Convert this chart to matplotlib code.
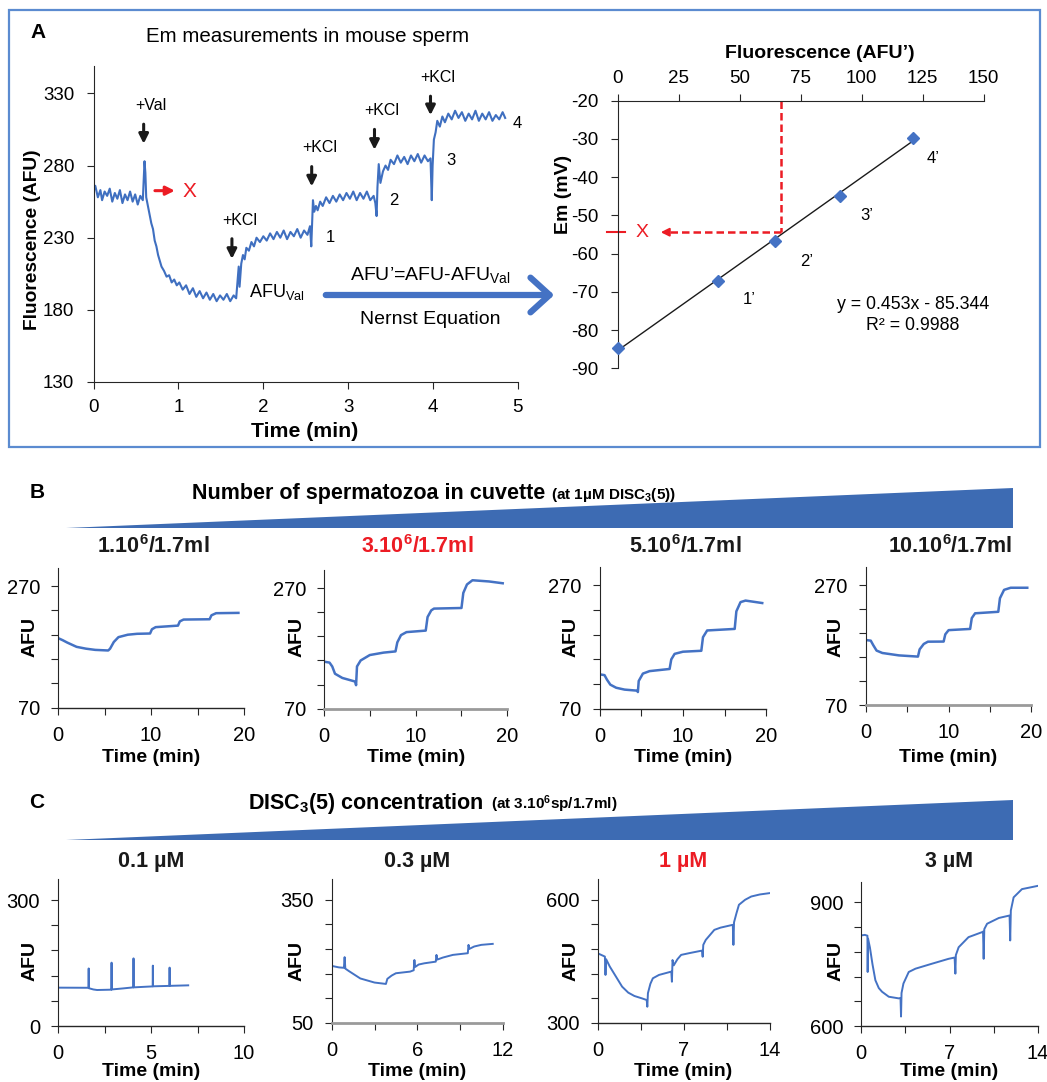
import matplotlib
matplotlib.use("Agg")
import matplotlib.pyplot as plt
from matplotlib.patches import Polygon, Rectangle, FancyArrowPatch

W, H = 1047, 1082
BLUE = "#4472c4"
WEDGE = "#3d6bb3"
RED = "#ec1c24"
AXC = "#262626"

plt.rcParams["font.family"] = ["Liberation Sans", "DejaVu Sans"]
plt.rcParams["axes.unicode_minus"] = False
plt.rcParams["mathtext.fontset"] = "custom"
plt.rcParams["mathtext.rm"] = "Liberation Sans"
plt.rcParams["mathtext.bf"] = "Liberation Sans:bold"
plt.rcParams["mathtext.it"] = "Liberation Sans:italic"

# ---- panel A, left: raw trace (time in min, AFU)
trace_a = [
    (0.00, 262), (0.02, 266), (0.05, 258), (0.08, 263), (0.10, 256), (0.13, 262), (0.16, 259),
    (0.19, 264), (0.22, 255), (0.25, 261), (0.28, 257), (0.31, 263), (0.34, 254), (0.37, 260),
    (0.40, 256), (0.43, 262), (0.46, 255), (0.49, 260), (0.52, 253), (0.55, 259), (0.58, 256),
    (0.59, 270), (0.60, 283), (0.61, 275), (0.62, 258), (0.64, 252), (0.66, 246), (0.68, 240),
    (0.70, 236), (0.72, 228), (0.74, 224), (0.76, 218), (0.78, 214), (0.80, 210), (0.83, 207),
    (0.86, 203), (0.89, 204), (0.92, 199), (0.95, 201), (0.98, 197), (1.01, 199), (1.05, 194),
    (1.09, 197), (1.13, 191), (1.17, 195), (1.21, 189), (1.25, 193), (1.29, 188), (1.33, 192),
    (1.37, 187), (1.41, 191), (1.45, 186), (1.49, 190), (1.53, 187), (1.57, 191), (1.61, 186),
    (1.65, 190), (1.68, 188), (1.70, 203), (1.71, 210), (1.72, 196), (1.74, 212), (1.76, 218),
    (1.78, 215), (1.80, 223), (1.83, 221), (1.86, 227), (1.89, 224), (1.92, 230), (1.96, 227),
    (2.00, 231), (2.04, 228), (2.08, 233), (2.12, 229), (2.16, 234), (2.20, 230), (2.24, 235),
    (2.28, 229), (2.32, 234), (2.36, 231), (2.40, 236), (2.44, 230), (2.48, 235), (2.52, 232),
    (2.55, 238), (2.565, 224), (2.575, 240), (2.585, 256), (2.60, 248), (2.62, 252), (2.64, 249),
    (2.67, 255), (2.70, 252), (2.74, 258), (2.78, 254), (2.82, 259), (2.86, 255), (2.90, 260),
    (2.94, 256), (2.98, 261), (3.02, 257), (3.06, 262), (3.10, 256), (3.14, 261), (3.18, 257),
    (3.22, 262), (3.26, 256), (3.30, 259), (3.32, 254), (3.335, 245), (3.345, 265), (3.36, 281),
    (3.38, 268), (3.41, 276), (3.44, 280), (3.47, 277), (3.50, 284), (3.54, 281), (3.58, 287),
    (3.62, 282), (3.66, 286), (3.70, 281), (3.74, 287), (3.78, 283), (3.82, 288), (3.86, 282),
    (3.90, 287), (3.94, 283), (3.97, 285), (3.985, 256), (3.995, 280), (4.01, 298), (4.03, 303),
    (4.05, 311), (4.08, 307), (4.11, 314), (4.14, 310), (4.18, 316), (4.22, 312), (4.26, 318),
    (4.30, 313), (4.34, 317), (4.38, 311), (4.42, 316), (4.46, 312), (4.50, 318), (4.54, 311),
    (4.58, 316), (4.62, 312), (4.66, 317), (4.70, 311), (4.74, 315), (4.78, 312), (4.82, 317),
    (4.85, 313),
]
add_time = [0.59, 1.63, 2.57, 3.31, 3.97]
add_top = [310.6, 231.2, 281.2, 307.0, 330.0]
add_bottom = [293.2, 213.4, 263.6, 289.0, 313.0]
add_names = ["+Val", "+KCl", "+KCl", "+KCl", "+KCl"]
step_names = ["1", "2", "3", "4"]
step_pos = [(2.79, 230), (3.54, 256), (4.21, 283.5), (4.99, 309)]

# ---- panel A, right: calibration
afu_prime = [0, 41, 64.5, 91, 121]
em_mv = [-84.8, -67.2, -56.8, -44.8, -29.7]
point_names = ["1’", "2’", "3’", "4’"]
point_lbl_pos = [(54, -72.1), (77.5, -62.1), (102, -50.1), (129.4, -35.1)]
slope, intercept, r2 = 0.453, -85.344, 0.9988
afu_unknown, em_unknown = 67.1, -54.4

# ---- panel B: cell density series (time in min, AFU)
b_titles = [r"1.10$^\mathbf{6}$/1.7ml", r"3.10$^\mathbf{6}$/1.7ml",
            r"5.10$^\mathbf{6}$/1.7ml", r"10.10$^\mathbf{6}$/1.7ml"]
b_traces = [
    [(0, 184.5), (0.5, 181), (1, 177), (2, 170), (3, 167), (4, 165), (5.4, 164), (5.6, 167),
     (6, 178), (6.5, 186), (7.5, 190), (8.5, 191.5), (9.9, 192), (10.1, 199), (10.5, 202.5),
     (12.9, 205), (13.1, 212), (13.5, 215), (16.3, 215.5), (16.5, 222), (17, 225.5), (19.4, 226)],
    [(0, 148), (0.6, 146.5), (0.9, 140), (1.2, 128), (2, 121), (3.4, 115), (3.5, 109), (3.6, 140),
     (4, 150), (5, 159), (6.5, 163), (7.8, 165), (8, 180), (8.4, 192), (9, 197), (11.1, 199.5),
     (11.3, 222), (11.7, 233), (12, 236), (15, 237), (15.2, 262), (15.6, 276), (16.2, 283),
     (18, 281), (19.5, 278)],
    [(0, 125.8), (0.6, 124.5), (0.9, 117), (1.3, 109), (2, 104), (3, 101), (4.5, 99.3), (4.6, 97),
     (4.7, 115), (5.2, 127), (6, 131), (8.4, 134.5), (8.6, 150), (9, 159), (10, 162.5),
     (12.2, 164), (12.4, 186), (12.9, 197), (16.2, 199.5), (16.4, 228), (16.9, 243),
     (17.5, 245.5), (19.5, 241.5)],
    [(0, 178.6), (0.6, 177.5), (0.9, 170), (1.3, 161), (2, 157), (4, 153), (6.3, 151), (6.5, 163),
     (7, 172), (7.5, 175.8), (9.4, 176), (9.6, 188), (10, 195), (12.6, 197), (12.8, 215),
     (13.2, 223), (16, 225.5), (16.2, 248), (16.7, 262), (17.5, 265.5), (19.5, 265.5)],
]
b_ylim = (70, 300)
b_yticks = [70, 110, 150, 190, 230, 270]
b_xticks = [0, 5, 10, 15, 20]

# ---- panel C: dye concentration series
c_titles = ["0.1 µM", "0.3 µM", "1 µM", "3 µM"]
c_traces = [
    [(0, 91.3), (1.64, 91), (1.65, 137), (1.66, 90), (1.9, 87), (2.1, 85.7), (2.87, 86.5),
     (2.88, 150.8), (2.89, 87), (3.5, 89.5), (4.05, 92), (4.06, 161), (4.07, 92), (5.09, 94.3),
     (5.1, 143.7), (5.11, 94.5), (5.99, 95.5), (6.0, 139), (6.01, 95.6), (7.0, 96.8)],
    [(0, 188.6), (0.5, 185), (0.85, 184), (0.9, 210), (0.95, 182), (1.2, 176), (2, 158),
     (3, 148), (3.8, 144.6), (3.9, 157), (4.2, 165), (4.5, 170.7), (5.5, 174.7), (5.75, 178),
     (5.8, 203), (5.85, 186), (6.1, 192), (6.5, 195), (7.3, 199), (7.35, 215.5), (7.4, 204),
     (7.8, 209), (8.5, 215.5), (9.55, 219.6), (9.6, 240), (9.65, 230), (10, 236), (10.5, 240),
     (11.3, 242.4)],
    [(0, 469.6), (0.3, 465.5), (0.6, 461.4), (0.65, 416.6), (0.7, 455), (1, 437), (1.5, 412.5),
     (2, 388), (2.5, 373.4), (3, 365.2), (3.6, 359.5), (4.0, 355.4), (4.05, 339), (4.1, 372),
     (4.3, 395), (4.5, 408.4), (5, 416.6), (6, 424.7), (6.05, 400), (6.1, 453), (6.2, 440),
     (6.5, 455), (6.8, 465.5), (7.5, 470), (8.5, 476), (8.55, 461), (8.6, 490), (8.8, 502),
     (9.5, 526.6), (10, 532), (11, 538.9), (11.05, 490), (11.1, 545), (11.3, 567.4),
     (11.5, 587.8), (12, 600), (12.5, 608), (13.2, 613), (14, 616.3)],
    [(0, 819.6), (0.3, 821), (0.5, 819), (0.52, 731), (0.55, 812), (0.7, 790), (0.9, 750),
     (1.13, 711), (1.4, 692), (1.66, 683), (2.19, 671), (2.98, 667), (3.12, 668), (3.16, 623),
     (3.2, 680), (3.35, 703), (3.77, 731), (4.3, 739), (5.6, 751), (6.93, 763), (7.4, 766),
     (7.46, 727), (7.5, 772), (7.72, 791), (8.5, 815.5), (9.57, 827.6), (9.65, 829), (9.7, 763),
     (9.75, 835), (9.97, 848), (10.9, 862), (11.75, 868), (11.8, 807.5), (11.85, 880),
     (12.07, 912), (12.73, 932), (14, 940)],
]
c_ylims = [(0, 350), (50, 400), (300, 650), (600, 950)]
c_yticks = [[0, 60, 120, 180, 240, 300], [50, 110, 170, 230, 290, 350],
            [300, 360, 420, 480, 540, 600], [600, 660, 720, 780, 840, 900]]
c_xticks = [[0, 2.5, 5, 7.5, 10], [0, 3, 6, 9, 12], [0, 3.5, 7, 10.5, 14], [0, 3.5, 7, 10.5, 14]]


fig = plt.figure(figsize=(W / 100, H / 100), dpi=100)


def px_axes(x0, y0, x1, y1):
    return fig.add_axes([x0 / W, 1 - y1 / H, (x1 - x0) / W, (y1 - y0) / H])


def ftext(x, y, s, **kw):
    kw.setdefault("ha", "center")
    kw.setdefault("va", "center")
    return fig.text(x / W, 1 - y / H, s, **kw)


def unzip(pairs):
    return [p[0] for p in pairs], [p[1] for p in pairs]


def sparse(ticks):
    # label first, middle and last tick only
    out = []
    for i, t in enumerate(ticks):
        keep = i == 0 or i == len(ticks) - 1 or (len(ticks) == 5 and i == 2)
        out.append(f"{t:g}" if keep else "")
    return out


# ======== panel A frame
fig.patches.append(Rectangle((9 / W, 1 - 447 / H), 1031 / W, 437 / H, transform=fig.transFigure,
                             fill=False, ec="#5b8bd0", lw=1.6))
ftext(38, 33, "A", fontsize=15, fontweight="bold")
ftext(308, 37, "Em measurements in mouse sperm", fontsize=14.8)

# ---- A left: trace
ax = px_axes(93.6, 66, 517.9, 382)
t, v = unzip(trace_a)
ax.plot(t, v, color="#3f6fc0", lw=1.5)
ax.set_xlim(0, 5)
ax.set_ylim(130, 349)
ax.set_xticks(range(6))
ax.set_yticks(range(130, 331, 50))
for s in ("top", "right"):
    ax.spines[s].set_visible(False)
for s in ("left", "bottom"):
    ax.spines[s].set_color(AXC)
ax.tick_params(axis="y", direction="out", length=5, pad=9, labelsize=13.5, colors=AXC, labelcolor="black")
ax.tick_params(axis="x", direction="out", length=5, pad=7, labelsize=13.5, colors=AXC, labelcolor="black")
ftext(33, 240, "Fluorescence (AFU)", fontsize=13.8, fontweight="bold", rotation=90)
ftext(305, 432, "Time (min)", fontsize=15.3, fontweight="bold")

for tt, top, bot, name in zip(add_time, add_top, add_bottom, add_names):
    ax.annotate("", xy=(tt, bot), xytext=(tt, top),
                arrowprops=dict(arrowstyle="-|>", color="#1a1a1a", lw=2.2, mutation_scale=14))
    ax.text(tt + 0.09, top + 11, name, ha="center", va="center", fontsize=11.5)
for name, (px, py) in zip(step_names, step_pos):
    ax.text(px, py, name, ha="center", va="center", fontsize=12)
ax.annotate("", xy=(0.99, 262.6), xytext=(0.69, 262.6),
            arrowprops=dict(arrowstyle="-|>", color=RED, lw=2.2, mutation_scale=13))
ax.text(1.13, 262, "X", color=RED, fontsize=15, ha="center", va="center")
ax.text(1.83, 192.5, r"AFU$_\mathregular{Val}$", fontsize=13, ha="left", va="center")

# transform arrow between the two graphs
fig.patches.append(FancyArrowPatch(
    (323 / W, 1 - 295 / H), (557 / W, 1 - 295 / H), transform=fig.transFigure,
    arrowstyle="->,head_length=0.55,head_width=0.5", mutation_scale=25, color=BLUE, lw=4.5))
ftext(430, 275, r"AFU’=AFU-AFU$_\mathregular{Val}$", fontsize=14)
ftext(430, 320, "Nernst Equation", fontsize=14)

# ---- A right: calibration line
ax = px_axes(617.7, 100.7, 983.7, 368.3)
fit_x = [afu_prime[0], afu_prime[-1]]
ax.plot(fit_x, [slope * x + intercept for x in fit_x], color="#1a1a1a", lw=1)
ax.plot(afu_prime, em_mv, ls="none", marker="D", ms=6.5, color=BLUE, clip_on=False, zorder=5)
ax.set_xlim(0, 150)
ax.set_ylim(-90, -20)
ax.set_xticks(range(0, 151, 25))
ax.set_yticks(range(-90, -19, 10))
ax.xaxis.tick_top()
for s in ("bottom", "right"):
    ax.spines[s].set_visible(False)
for s in ("left", "top"):
    ax.spines[s].set_color(AXC)
ax.tick_params(axis="x", direction="out", length=5, pad=5, labelsize=13.5, colors=AXC, labelcolor="black")
ax.tick_params(axis="y", direction="out", length=5, pad=9, labelsize=13.5, colors=AXC, labelcolor="black")
ftext(820, 53, "Fluorescence (AFU’)", fontsize=14, fontweight="bold")
ftext(563, 194, "Em (mV)", fontsize=14, fontweight="bold", rotation=90)
for name, (px, py) in zip(point_names, point_lbl_pos):
    ax.text(px, py, name, ha="center", va="center", fontsize=12)
ax.text(121, -73.4, "y = 0.453x - 85.344", ha="center", va="center", fontsize=12.8)
ax.text(121, -78.7, f"R² = {r2}", ha="center", va="center", fontsize=12.8)
dash = dict(color=RED, lw=1.8, ls=(0, (3, 1.6)))
ax.plot([afu_unknown, afu_unknown], [-20, em_unknown], **dash)
ax.plot([afu_unknown, 20], [em_unknown, em_unknown], **dash)
ax.annotate("", xy=(16.5, em_unknown), xytext=(21, em_unknown),
            arrowprops=dict(arrowstyle="-|>", color=RED, lw=1.5, mutation_scale=12))
ax.plot([-4.5, 3], [em_unknown, em_unknown], color=RED, lw=1.5, clip_on=False)
ax.text(9.8, em_unknown, "X", color=RED, fontsize=14, ha="center", va="center")


def small_axes(box, xlim, xticks, ylim, yticks, gray_base=False):
    a = px_axes(*box)
    a.set_xlim(*xlim)
    a.set_ylim(*ylim)
    a.set_xticks(xticks)
    a.set_xticklabels(sparse(xticks))
    a.set_yticks(yticks)
    a.set_yticklabels([f"{yticks[0]}", "", "", "", "", f"{yticks[-1]}"])
    for s in ("top", "right"):
        a.spines[s].set_visible(False)
    a.spines["left"].set_color(AXC)
    a.spines["bottom"].set_color("#9a9a9a" if gray_base else AXC)
    a.spines["bottom"].set_linewidth(2.0 if gray_base else 1.0)
    a.tick_params(direction="out", length=5, pad=8, labelsize=14.5, colors=AXC, labelcolor="black")
    return a


afu_x = [30, 297, 571, 836]

# ======== panel B
ftext(37, 493, "B", fontsize=15, fontweight="bold")
fig.patches.append(Polygon([(66 / W, 1 - 527.5 / H), (1013 / W, 1 - 527.5 / H), (1013 / W, 1 - 487.5 / H)],
                           closed=True, transform=fig.transFigure, fc=WEDGE, ec="none"))
ftext(192, 499, "Number of spermatozoa in cuvette", fontsize=15.5, fontweight="bold", ha="left", va="baseline")
ftext(551, 499, r"(at 1µM DISC$_\mathbf{3}$(5))", fontsize=11, fontweight="bold", ha="left", va="baseline")

b_boxes = [(58, 568, 244, 707.5), (324, 570, 507.3, 708.7), (599.5, 567, 766.4, 708.7),
           (865.8, 567, 1031.4, 705.3)]
for i, (box, title, tr) in enumerate(zip(b_boxes, b_titles, b_traces)):
    a = small_axes(box, (0, 20), b_xticks, b_ylim, b_yticks, gray_base=i in (1, 3))
    tx, ty = unzip(tr)
    a.plot(tx, ty, color=BLUE, lw=1.8)
    cx = (box[0] + box[2]) / 2
    ftext(cx + 2, 547, title, fontsize=15.5, fontweight="bold",
          color=RED if i == 1 else "#1a1a1a")
    ftext(afu_x[i], 637, "AFU", fontsize=14, fontweight="bold", rotation=90)
    ftext(cx, 758, "Time (min)", fontsize=14, fontweight="bold")

# ======== panel C
ftext(37, 803, "C", fontsize=15, fontweight="bold")
fig.patches.append(Polygon([(66 / W, 1 - 840 / H), (1013 / W, 1 - 840 / H), (1013 / W, 1 - 800 / H)],
                           closed=True, transform=fig.transFigure, fc=WEDGE, ec="none"))
ftext(248, 809, r"DISC$_\mathbf{3}$(5) concentration", fontsize=15.5, fontweight="bold", ha="left", va="baseline")
ftext(491, 809, r"(at 3.10$^\mathbf{6}$sp/1.7ml)", fontsize=11, fontweight="bold", ha="left", va="baseline")

c_boxes = [(58, 879, 244, 1026), (331.8, 879.3, 502.7, 1022.7), (597.5, 879.3, 769.7, 1022.7),
           (861.1, 881.7, 1038, 1026)]
for i, (box, title, tr) in enumerate(zip(c_boxes, c_titles, c_traces)):
    xt = c_xticks[i]
    a = small_axes(box, (xt[0], xt[-1]), xt, c_ylims[i], c_yticks[i], gray_base=i == 1)
    tx, ty = unzip(tr)
    a.plot(tx, ty, color=BLUE, lw=1.4)
    cx = (box[0] + box[2]) / 2
    ftext(cx, 862, title, fontsize=15.5, fontweight="bold", color=RED if i == 2 else "#1a1a1a")
    ftext(afu_x[i], 961, "AFU", fontsize=14, fontweight="bold", rotation=90)
    ftext(cx, 1071, "Time (min)", fontsize=14, fontweight="bold")

fig.savefig("out.png", dpi=100)
